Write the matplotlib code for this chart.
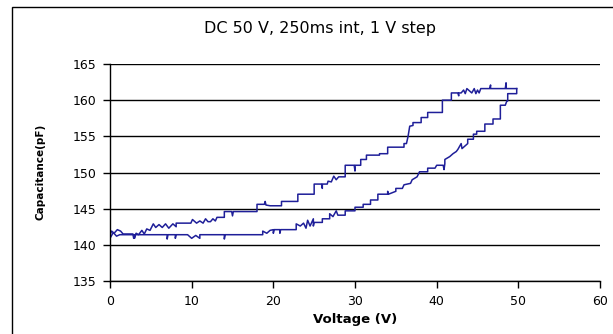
import matplotlib.pyplot as plt
from matplotlib.patches import Rectangle

# rising sweep, 0 -> 50 V
v_up = [0, 0, 0.4, 0.8, 1.2, 3.0, 3.0, 3.1, 7.0, 7.0, 7.1, 8.0, 8.0, 8.1,
        9.5, 10.0, 10.5, 11.0, 11.0, 14.0, 14.0, 14.1, 18.7, 18.7, 19.2, 19.6,
        20.0, 20.0, 20.1, 20.8, 20.8, 20.9, 22.8, 22.8, 23.3, 23.7, 24.0, 24.2,
        24.5, 24.9, 24.9, 25.0, 26.0, 26.0, 26.9, 26.9, 27.3, 27.7, 27.9, 28.8,
        28.8, 30.0, 30.0, 31.0, 31.0, 31.9, 31.9, 32.8, 32.8, 34.0, 34.0, 34.1,
        35.0, 35.0, 35.8, 36.0, 36.8, 37.0, 37.6, 37.9, 38.9, 38.9, 39.8, 40.0,
        40.8, 40.9, 41.0, 41.0, 41.6, 42.0, 42.4, 42.6, 43.0, 43.0, 43.1, 43.8,
        43.8, 44.5, 44.5, 44.9, 44.9, 45.9, 45.9, 46.9, 46.9, 47.8, 47.8, 48.4,
        48.6, 48.7, 48.7, 49.8, 49.8]
c_up = [142.2, 140.9, 141.7, 141.2, 141.4, 141.4, 140.9, 141.4, 141.4, 140.8,
        141.4, 141.4, 140.9, 141.4, 141.4, 140.9, 141.3, 140.9, 141.4, 141.4,
        140.8, 141.4, 141.4, 141.9, 141.6, 142.0, 142.1, 141.6, 142.1, 142.1,
        141.6, 142.1, 142.1, 142.9, 142.6, 143.0, 142.3, 143.4, 142.6, 143.6,
        142.6, 143.1, 143.1, 143.6, 143.6, 144.3, 143.9, 144.7, 144.1, 144.1,
        144.7, 144.7, 145.2, 145.2, 145.6, 145.6, 146.2, 146.2, 147.0, 147.0,
        147.4, 147.0, 147.4, 147.8, 147.8, 148.3, 148.5, 149.0, 149.4, 150.1,
        150.1, 150.6, 150.6, 151.0, 151.0, 150.4, 151.2, 151.8, 152.2, 152.6,
        152.9, 153.2, 154.0, 154.0, 153.3, 154.0, 154.6, 154.6, 155.3, 155.3,
        155.7, 155.7, 156.7, 156.7, 157.4, 157.4, 159.3, 159.3, 159.9, 159.9,
        160.9, 160.9, 161.6]

# falling sweep, 50 -> 0 V
v_dn = [49.8, 48.5, 48.5, 48.4, 46.6, 46.6, 46.5, 45.4, 45.2, 45.0,
        44.8, 44.6, 44.3, 44.0, 43.7, 43.5, 43.3, 43.0, 42.7, 42.7,
        42.6, 41.8, 41.8, 40.7, 40.7, 38.9, 38.9, 38.1, 38.1, 37.1,
        37.1, 36.7, 36.5, 36.3, 36.0, 36.0, 34.0, 34.0, 33.0, 33.0,
        31.4, 31.4, 30.7, 30.7, 30.0, 30.0, 29.9, 28.8, 28.8, 28.0,
        27.7, 27.4, 27.1, 26.7, 26.6, 26.0, 26.0, 25.9, 25.0, 25.0,
        23.0, 23.0, 21.0, 21.0, 19.6, 19.1, 19.0, 18.9, 18.0, 18.0,
        15.1, 15.0, 14.9, 14.0, 14.0, 13.1, 12.9, 12.6, 12.3, 12.0,
        11.7, 11.4, 11.0, 10.6, 10.1, 9.9, 8.1, 8.1, 7.7, 7.2,
        6.8, 6.4, 6.0, 5.6, 5.3, 4.9, 4.5, 4.2, 3.9, 3.5,
        3.2, 2.9, 2.8, 1.6, 1.3, 0.9, 0.5, 0.2, 0.0]
c_dn = [161.6, 161.6, 162.4, 161.6, 161.6, 162.1, 161.6, 161.6, 161.0, 161.4,
        160.9, 161.6, 161.0, 161.3, 161.6, 160.9, 161.4, 161.0, 161.0, 160.6,
        161.0, 161.0, 160.0, 160.0, 158.3, 158.3, 157.6, 157.6, 156.9, 156.9,
        156.5, 156.4, 155.0, 154.0, 154.0, 153.5, 153.5, 152.6, 152.6, 152.4,
        152.4, 151.8, 151.8, 151.0, 151.0, 150.2, 151.0, 151.0, 149.4, 149.4,
        149.0, 149.5, 148.7, 148.8, 148.4, 148.4, 147.8, 148.4, 148.4, 147.0,
        147.0, 146.0, 146.0, 145.4, 145.4, 145.5, 146.0, 145.6, 145.6, 144.6,
        144.6, 144.0, 144.6, 144.6, 143.8, 143.8, 143.3, 143.6, 143.2, 143.2,
        143.6, 143.0, 143.3, 143.0, 143.5, 143.0, 143.0, 142.5, 142.9, 142.3,
        142.9, 142.4, 142.8, 142.4, 142.9, 142.0, 142.2, 141.5, 142.0, 141.4,
        141.6, 140.9, 141.5, 141.5, 141.9, 142.1, 141.6, 141.9, 141.4]

x_ticks = [0, 10, 20, 30, 40, 50, 60]
y_ticks = [135, 140, 145, 150, 155, 160, 165]

fig = plt.figure(figsize=(6.13, 3.34), dpi=100)
ax = fig.add_axes([110 / 613, 1 - 281 / 334, 490 / 613, 217 / 334])

# outer chart frame (right and bottom edges run off the image)
fig.patches.append(Rectangle((12 / 613, -0.2), 1.2, 0.2 + 1 - 7 / 334,
                             transform=fig.transFigure, fill=False,
                             edgecolor='black', linewidth=1.0))

line_color = '#1f1f99'
ax.plot(v_up, c_up, color=line_color, linewidth=1.1)
ax.plot(v_dn, c_dn, color=line_color, linewidth=1.1)

ax.set_xlim(0, 60)
ax.set_ylim(135, 165)
ax.set_xticks(x_ticks)
ax.set_yticks(y_ticks)
ax.yaxis.grid(True, color='black', linewidth=1.0)
ax.set_axisbelow(True)
for side in ('top', 'right'):
    ax.spines[side].set_visible(False)
for side in ('left', 'bottom'):
    ax.spines[side].set_linewidth(1.0)
ax.tick_params(direction='out', length=5, width=1.0, labelsize=9, pad=5)

fig.text(0.522, 0.916, 'DC 50 V, 250ms int, 1 V step', ha='center',
         va='center', fontsize=11.5)
fig.text(355 / 613, 1 - 320 / 334, 'Voltage (V)', ha='center', va='center',
         fontsize=9.5, fontweight='bold')
fig.text(40 / 613, 1 - 172 / 334, 'Capacitance(pF)', ha='center',
         va='center', rotation=90, fontsize=7.5, fontweight='bold',
         family='Liberation Sans Narrow')

fig.savefig('out.png', dpi=100)
